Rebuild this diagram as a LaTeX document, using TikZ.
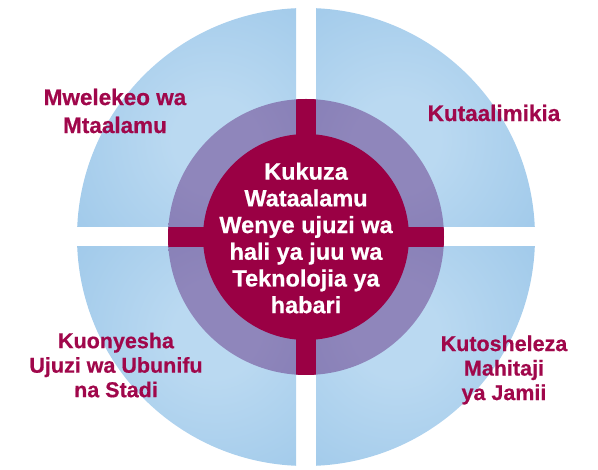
\documentclass[tikz,border=0pt]{standalone}
\usepackage{fontspec}
\setmainfont[BoldFeatures={FakeBold=0.6}]{Liberation Sans}
\definecolor{bluedark}{HTML}{8ABCE4}
\definecolor{bluelight}{HTML}{BAD9F1}
\definecolor{purpdark}{HTML}{716EAC}
\definecolor{purplight}{HTML}{8F86BB}
\definecolor{wine}{HTML}{9A0044}
\definecolor{labelred}{HTML}{A0074B}
\pgfdeclareradialshading{bluesh}{\pgfpoint{0bp}{0bp}}{color(0bp)=(bluelight); color(6bp)=(bluelight); color(40bp)=(bluedark); color(50bp)=(bluedark)}
\pgfdeclareradialshading{purpsh}{\pgfpoint{0bp}{0bp}}{color(0bp)=(purplight); color(8bp)=(purplight); color(50bp)=(purpdark)}
\tikzset{
  outerlabel/.style={text=labelred, align=center, font=\bfseries\fontsize{22.5}{28}\selectfont, inner sep=0pt},
  lowerlabel/.style={text=labelred, align=center, font=\bfseries\fontsize{21.5}{24.5}\selectfont, inner sep=0pt},
  centerlabel/.style={text=white, align=center, font=\bfseries\fontsize{23.5}{26.7}\selectfont, inner sep=0pt}
}
\begin{document}
\begin{tikzpicture}[x=1pt,y=-1pt]
\useasboundingbox (0,0) rectangle (598,470);
\coordinate (C) at (306,237);
% blue quadrants
\begin{scope}
  \clip (C) circle (229pt);
  \begin{scope}\clip (0,0) rectangle (296,227);
    \shade[shading=bluesh] (215,140) circle (175pt);\end{scope}
  \begin{scope}\clip (316,0) rectangle (598,227);
    \shade[shading=bluesh] (397,140) circle (175pt);\end{scope}
  \begin{scope}\clip (0,247) rectangle (296,470);
    \shade[shading=bluesh] (215,335) circle (175pt);\end{scope}
  \begin{scope}\clip (316,247) rectangle (598,470);
    \shade[shading=bluesh] (397,335) circle (175pt);\end{scope}
\end{scope}
% purple ring
\begin{scope}
  \clip (C) circle (138pt);
  \begin{scope}\clip (0,0) rectangle (306,237);
    \shade[shading=purpsh] (215,148) circle (140pt);\end{scope}
  \begin{scope}\clip (306,0) rectangle (598,237);
    \shade[shading=purpsh] (397,148) circle (140pt);\end{scope}
  \begin{scope}\clip (0,237) rectangle (306,470);
    \shade[shading=purpsh] (215,326) circle (140pt);\end{scope}
  \begin{scope}\clip (306,237) rectangle (598,470);
    \shade[shading=purpsh] (397,326) circle (140pt);\end{scope}
  % red cross
  \fill[wine] (296,0) rectangle (316,470);
  \fill[wine] (0,227) rectangle (598,247);
\end{scope}
% inner circle
\fill[wine] (C) circle (103pt);
% texts
\node[centerlabel] (core) at (306,238) {Kukuza\\Wataalamu\\Wenye ujuzi wa\\hali ya juu wa\\Teknolojia ya\\habari};
\node[outerlabel] (tl) at (115,111) {Mwelekeo wa\\Mtaalamu};
\node[outerlabel] (tr) at (494,113) {Kutaalimikia};
\node[lowerlabel] (bl) at (116,365) {Kuonyesha\\Ujuzi wa Ubunifu\\na Stadi};
\node[lowerlabel] (br) at (504,370) {Kutosheleza\\Mahitaji\\ya Jamii};
\end{tikzpicture}
\end{document}
